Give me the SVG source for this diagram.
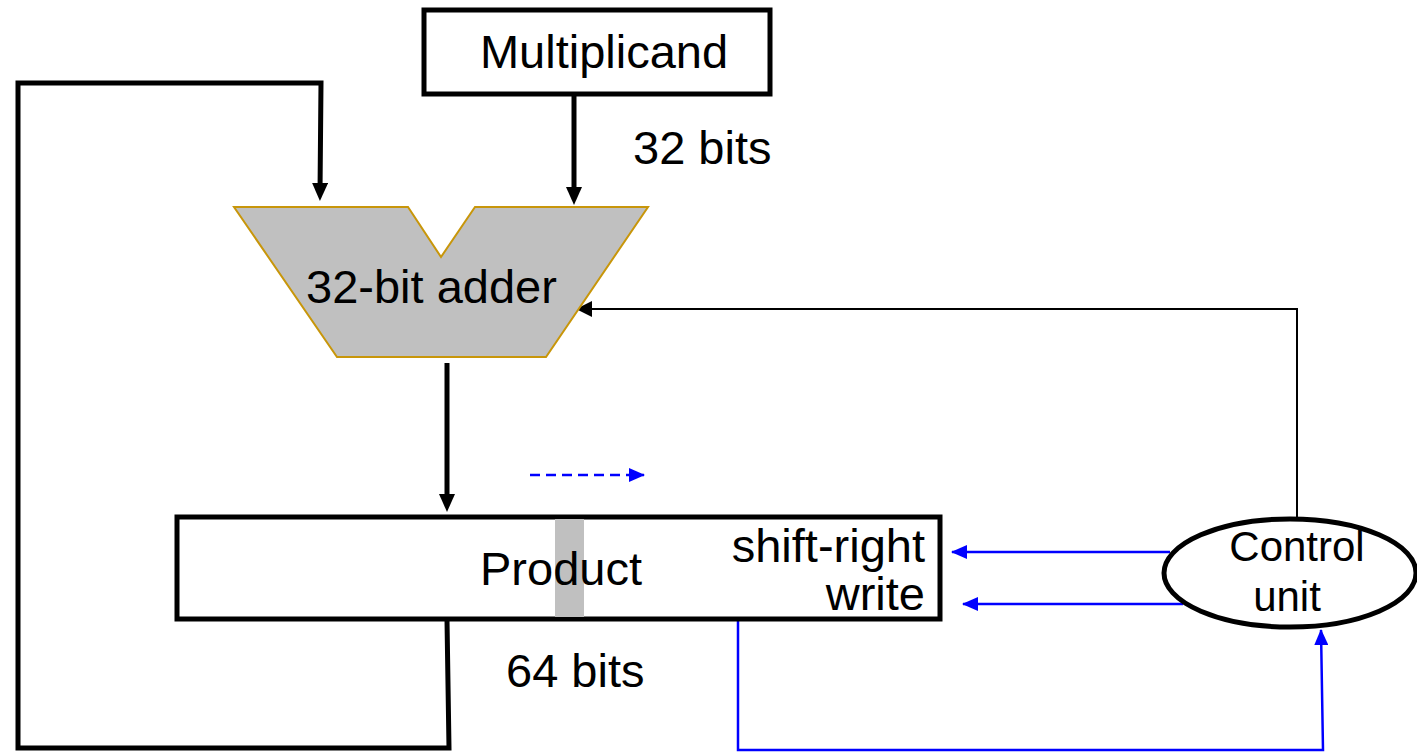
<svg xmlns="http://www.w3.org/2000/svg" width="1417" height="752" viewBox="0 0 1417 752">
<style>
text{font-family:"Liberation Sans",Arial,sans-serif;fill:#000}
.big{font-size:47px}
.small{font-size:42px}
.thick{fill:none;stroke:#000;stroke-width:5;stroke-linejoin:miter}
.thin{fill:none;stroke:#000;stroke-width:2}
.blue{fill:none;stroke:#0000ff;stroke-width:2.5}
</style>
<defs>
<marker id="ahThick" markerUnits="userSpaceOnUse" markerWidth="18" markerHeight="16" refX="10" refY="8" orient="auto"><path d="M0,0 L18,8 L0,16 z" fill="#000"/></marker>
<marker id="ahThin" markerUnits="userSpaceOnUse" markerWidth="16" markerHeight="16" refX="15" refY="8" orient="auto"><path d="M0,0 L16,8 L0,16 z" fill="#000"/></marker>
<marker id="ahBlue" markerUnits="userSpaceOnUse" markerWidth="16" markerHeight="14" refX="15" refY="7" orient="auto"><path d="M0,0 L16,7 L0,14 z" fill="#0000ff"/></marker>
</defs>
<rect width="1417" height="752" fill="#fff"/>
<g id="connectors">
<path class="thick" d="M447,620 L449,748 L18,748 L18,83 L321,83 L320,193" marker-end="url(#ahThick)"/>
<path class="thick" d="M574,94 L574,197" marker-end="url(#ahThick)"/>
<path class="thick" d="M447,363 L447,504" marker-end="url(#ahThick)"/>
<path class="thin" d="M1297,518 L1297,309 L577,309" marker-end="url(#ahThin)"/>
<path class="blue" d="M1170,552 L952,552" marker-end="url(#ahBlue)"/>
<path class="blue" d="M1183,604 L963,604" marker-end="url(#ahBlue)"/>
<path class="blue" d="M738,620 L738,750 L1323,750 L1321,630" marker-end="url(#ahBlue)"/>
<path class="blue" d="M530,475 L644,475" stroke-dasharray="10,6" marker-end="url(#ahBlue)"/>
</g>
<g id="multiplicand">
<rect x="424" y="10" width="346" height="84" fill="#fff" stroke="#000" stroke-width="5"/>
<text class="big" x="604" y="68" text-anchor="middle">Multiplicand</text>
</g>
<text class="big" x="633" y="164">32 bits</text>
<g id="adder">
<polygon points="234,207 408,207 441,257 475,207 648,207 546,357 337,357" fill="#c0c0c0" stroke="#c8960a" stroke-width="2"/>
<text class="big" x="306" y="303">32-bit adder</text>
</g>
<g id="product">
<rect x="177" y="517" width="763" height="102" fill="#fff" stroke="#000" stroke-width="5"/>
<rect x="555" y="519" width="29" height="98" fill="#c0c0c0"/>
<text class="big" x="480" y="585">Product</text>
<text class="big" x="925" y="562" text-anchor="end">shift-right</text>
<text class="big" x="925" y="610" text-anchor="end">write</text>
</g>
<text class="big" x="506" y="687">64 bits</text>
<g id="control">
<ellipse cx="1290" cy="573" rx="126" ry="54" fill="#fff" stroke="#000" stroke-width="5"/>
<text class="small" x="1297" y="561" text-anchor="middle">Control</text>
<text class="small" x="1287" y="611" text-anchor="middle">unit</text>
</g>
</svg>
